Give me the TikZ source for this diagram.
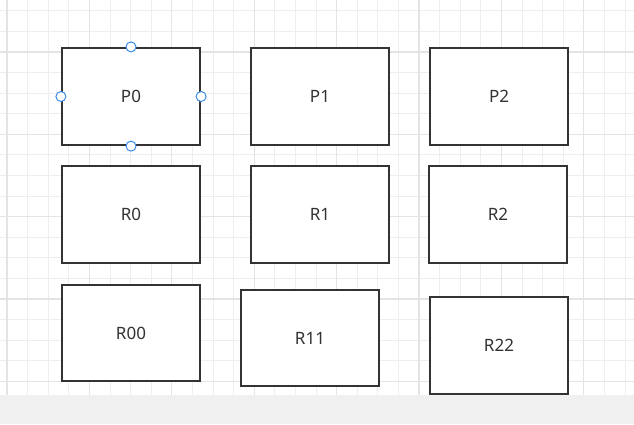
\documentclass[tikz,border=0pt]{standalone}
\usepackage{fontspec}
\setmainfont{Noto Sans}
\definecolor{gridc}{HTML}{EEEEEE}
\definecolor{gridd}{HTML}{E4E4E4}
\definecolor{boxc}{HTML}{333333}
\definecolor{handle}{HTML}{3B8CEA}
\definecolor{strip}{HTML}{F0F0F0}
\begin{document}
\begin{tikzpicture}[x=1pt,y=-1pt,
  box/.style={draw=boxc,line width=2.2pt,fill=white,minimum width=138pt,minimum height=97pt,inner sep=0pt,font=\fontsize{17}{20}\selectfont,text=boxc},
  hdl/.style={circle,draw=handle,fill=white,line width=1pt,minimum size=10pt,inner sep=0pt}]
\useasboundingbox (0,0) rectangle (634,424);
\fill[white] (0,0) rectangle (634,424);
\foreach \i in {0,...,30} {
  \pgfmathsetmacro{\xx}{7+20.6*\i}
  \draw[gridc,line width=1pt] (\xx,0) -- (\xx,395);
}
\foreach \i in {0,...,19} {
  \pgfmathsetmacro{\yy}{10.7+20.6*\i}
  \draw[gridc,line width=1pt] (0,\yy) -- (634,\yy);
}
\foreach \i in {0,4,...,28} {
  \pgfmathsetmacro{\xx}{7+20.6*\i}
  \draw[gridd,line width=1.3pt] (\xx,0) -- (\xx,395);
}
\foreach \i in {2,6,...,18} {
  \pgfmathsetmacro{\yy}{10.7+20.6*\i}
  \draw[gridd,line width=1.3pt] (0,\yy) -- (634,\yy);
}
\fill[strip] (0,395) rectangle (634,424);
\node[box] (P0) at (131,96.5) {P0};
\node[box] (P1) at (320,96.5) {P1};
\node[box] (P2) at (499,96.5) {P2};
\node[box] (R0) at (131,214.5) {R0};
\node[box] (R1) at (320,214.5) {R1};
\node[box] (R2) at (498,214.5) {R2};
\node[box,minimum height=96pt] (R00) at (131,333) {R00};
\node[box,minimum height=96pt] (R11) at (310,338) {R11};
\node[box] (R22) at (499,345.5) {R22};
\node[hdl] (h1) at (P0.north) {};
\node[hdl] (h2) at (P0.south) {};
\node[hdl] (h3) at (P0.west) {};
\node[hdl] (h4) at (P0.east) {};
\end{tikzpicture}
\end{document}
